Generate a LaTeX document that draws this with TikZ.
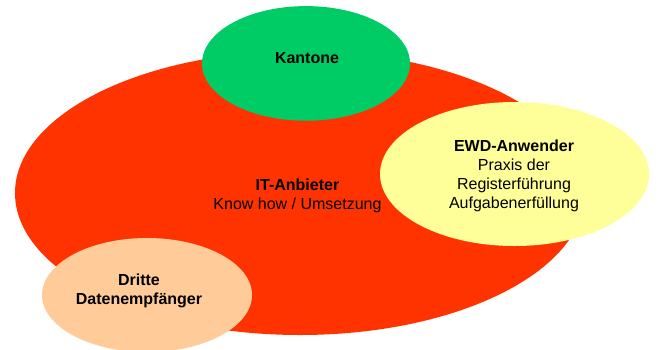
\documentclass[tikz,border=0pt]{standalone}
\usepackage{fontspec}
\setmainfont{Liberation Sans}
\usetikzlibrary{shapes.geometric}
\definecolor{redfill}{HTML}{FF3300}
\definecolor{greenfill}{HTML}{00CC66}
\definecolor{yellowfill}{HTML}{FFFF99}
\definecolor{orangefill}{HTML}{FFCC99}
\tikzset{
  blob/.style={ellipse, inner sep=0pt, outer sep=0pt, draw=none},
  lbl/.style={align=center, inner sep=0pt, text=black,
    font={\fontsize{16pt}{18.9pt}\selectfont}}
}
\begin{document}
\begin{tikzpicture}[x=1pt,y=-1pt]
\useasboundingbox (0,0) rectangle (658,349);
% ellipses
\node[blob, fill=redfill, minimum width=570pt, minimum height=284pt] (red) at (300,193) {};
\node[blob, fill=greenfill, minimum width=208pt, minimum height=114.6pt] (green) at (306,63.4) {};
\node[blob, fill=yellowfill, minimum width=269pt, minimum height=144pt] (yellow) at (514.5,174) {};
\node[blob, fill=orangefill, minimum width=210pt, minimum height=114pt] (orange) at (147,295) {};
% labels
\node[lbl] (kt) at (307,57.6) {\bfseries Kantone};
\node[lbl] (it) at (297.5,195.5) {{\bfseries IT-Anbieter}\\Know how / Umsetzung};
\node[lbl] (ewd) at (514,176) {{\bfseries EWD-Anwender}\\Praxis der\\Registerführung\\Aufgabenerfüllung};
\node[lbl] (dr) at (139,291) {\bfseries Dritte\\\bfseries Datenempfänger};
\end{tikzpicture}
\end{document}
